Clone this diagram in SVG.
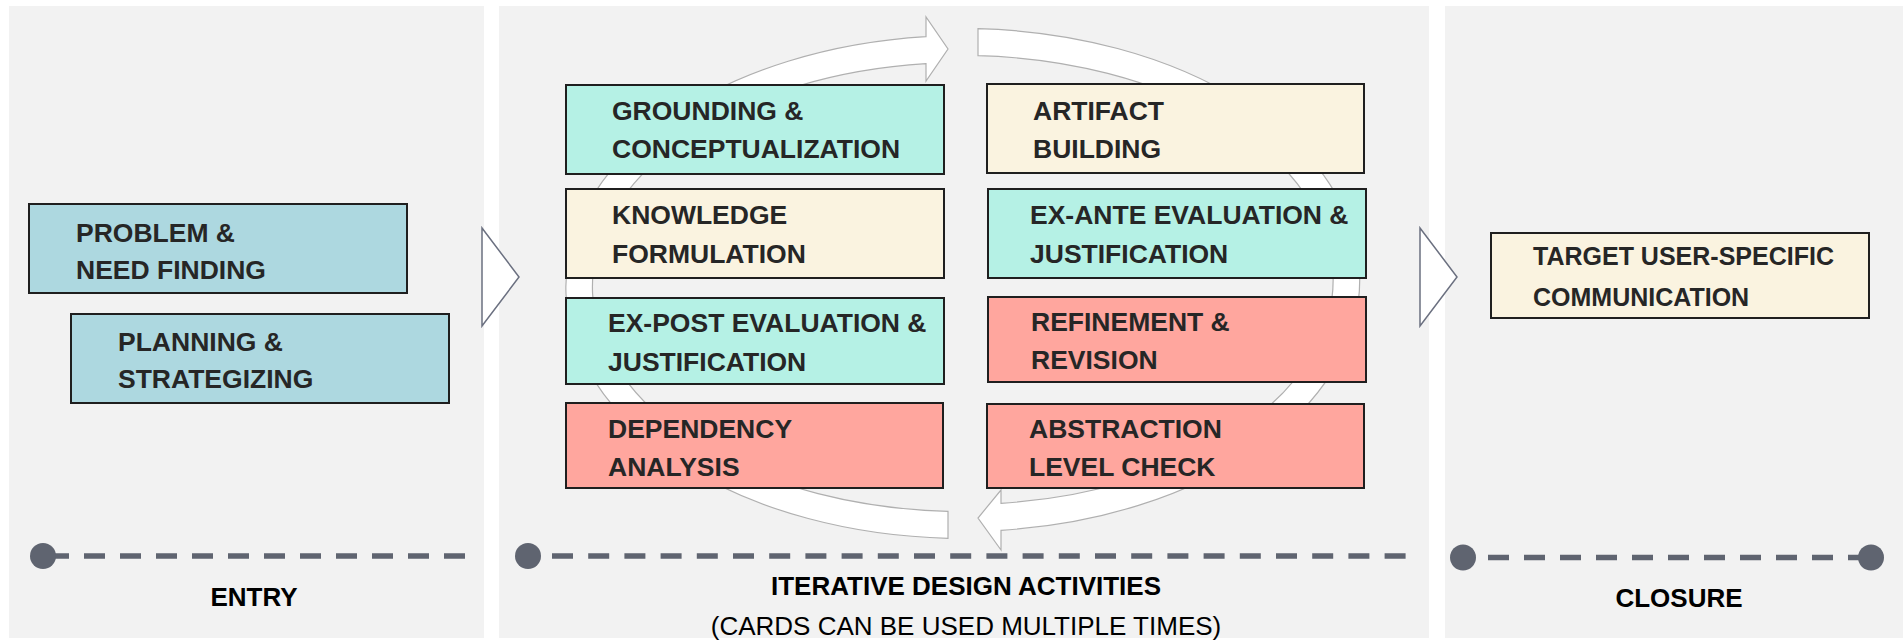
<svg xmlns="http://www.w3.org/2000/svg" width="1903" height="640" viewBox="0 0 1903 640">
<defs>
<style>
.panel{fill:#f2f2f2}
.card{stroke:#1f1f1f;stroke-width:2}
.blue{fill:#add8e0}
.mint{fill:#b5f1e5}
.cream{fill:#faf3e0}
.salmon{fill:#ffa69e}
.ct{font-family:"Liberation Sans",Arial,sans-serif;font-weight:bold;font-size:26.5px;fill:#262626}
.lbl{font-family:"Liberation Sans",Arial,sans-serif;font-weight:bold;font-size:26px;fill:#000;text-anchor:middle}
.sub{font-family:"Liberation Sans",Arial,sans-serif;font-size:26px;fill:#000;text-anchor:middle}
.chev{fill:#fff;stroke:#6b7080;stroke-width:1.5}
.ring{fill:#fff;stroke:#b0b0b0;stroke-width:1.2}
.dash{stroke:#5f6470;stroke-width:5.5;stroke-dasharray:21 15;fill:none}
.dot{fill:#5f6470}
</style>
</defs>
<rect width="1903" height="640" fill="#fff"/>
<g id="panels">
<rect class="panel" x="9" y="6" width="475" height="632"/>
<rect class="panel" x="499" y="6" width="930" height="632"/>
<rect class="panel" x="1445" y="6" width="458" height="632"/>
</g>
<g id="connectors">
<path class="ring" d="M948,538.3 A397.5,251.5 0 0 1 926,36.6 L926,17 L948,49 L926,81 L926,63.6 A370.5,224.5 0 0 0 948,511.3 Z"/>
<path class="ring" d="M978,28.7 A397.5,251.5 0 0 1 1001,530.3 L1001,550 L978,518 L1001,490 L1001,503.3 A370.5,224.5 0 0 0 978,55.7 Z"/>
<polygon class="chev" points="482,228 519,277 482,326"/>
<polygon class="chev" points="1420,228 1457,277 1420,326"/>
</g>
<g id="timelines">
<line class="dash" x1="48" y1="556" x2="467" y2="556"/>
<circle class="dot" cx="43" cy="556" r="13"/>
<line class="dash" x1="552" y1="556" x2="1406" y2="556" style="stroke-dasharray:21 15.2"/>
<circle class="dot" cx="528" cy="556" r="13"/>
<line class="dash" x1="1488" y1="557.5" x2="1868" y2="557.5" style="stroke-dasharray:21 15"/>
<circle class="dot" cx="1463" cy="557.5" r="13"/>
<circle class="dot" cx="1871" cy="557.5" r="13"/>
</g>
<g id="problem"><rect class="card blue" x="29" y="204" width="378" height="89"/><text class="ct" x="76" y="242">PROBLEM &amp;</text><text class="ct" x="76" y="279">NEED FINDING</text></g>
<g id="planning"><rect class="card blue" x="71" y="314" width="378" height="89"/><text class="ct" x="118" y="351">PLANNING &amp;</text><text class="ct" x="118" y="388">STRATEGIZING</text></g>
<g id="grounding"><rect class="card mint" x="566" y="85" width="378" height="89"/><text class="ct" x="612" y="120">GROUNDING &amp;</text><text class="ct" x="612" y="158">CONCEPTUALIZATION</text></g>
<g id="knowledge"><rect class="card cream" x="566" y="189" width="378" height="89"/><text class="ct" x="612" y="224">KNOWLEDGE</text><text class="ct" x="612" y="263">FORMULATION</text></g>
<g id="expost"><rect class="card mint" x="566" y="298" width="378" height="86"/><text class="ct" x="608" y="332">EX-POST EVALUATION &amp;</text><text class="ct" x="608" y="371">JUSTIFICATION</text></g>
<g id="dependency"><rect class="card salmon" x="566" y="403" width="377" height="85"/><text class="ct" x="608" y="438">DEPENDENCY</text><text class="ct" x="608" y="476">ANALYSIS</text></g>
<g id="artifact"><rect class="card cream" x="987" y="84" width="377" height="89"/><text class="ct" x="1033" y="120">ARTIFACT</text><text class="ct" x="1033" y="158">BUILDING</text></g>
<g id="exante"><rect class="card mint" x="988" y="189" width="378" height="89"/><text class="ct" x="1030" y="224">EX-ANTE EVALUATION &amp;</text><text class="ct" x="1030" y="263">JUSTIFICATION</text></g>
<g id="refinement"><rect class="card salmon" x="988" y="297" width="378" height="85"/><text class="ct" x="1031" y="331">REFINEMENT &amp;</text><text class="ct" x="1031" y="369">REVISION</text></g>
<g id="abstraction"><rect class="card salmon" x="987" y="404" width="377" height="84"/><text class="ct" x="1029" y="438">ABSTRACTION</text><text class="ct" x="1029" y="476">LEVEL CHECK</text></g>
<g id="target"><rect class="card cream" x="1491" y="233" width="378" height="85"/><text class="ct" x="1533" y="265" style="font-size:25px">TARGET USER-SPECIFIC</text><text class="ct" x="1533" y="306" style="font-size:25px">COMMUNICATION</text></g>
<g id="labels">
<text class="lbl" x="254" y="606">ENTRY</text>
<text class="lbl" x="966" y="595">ITERATIVE DESIGN ACTIVITIES</text>
<text class="sub" x="966" y="635">(CARDS CAN BE USED MULTIPLE TIMES)</text>
<text class="lbl" x="1679" y="607">CLOSURE</text>
</g>
</svg>
